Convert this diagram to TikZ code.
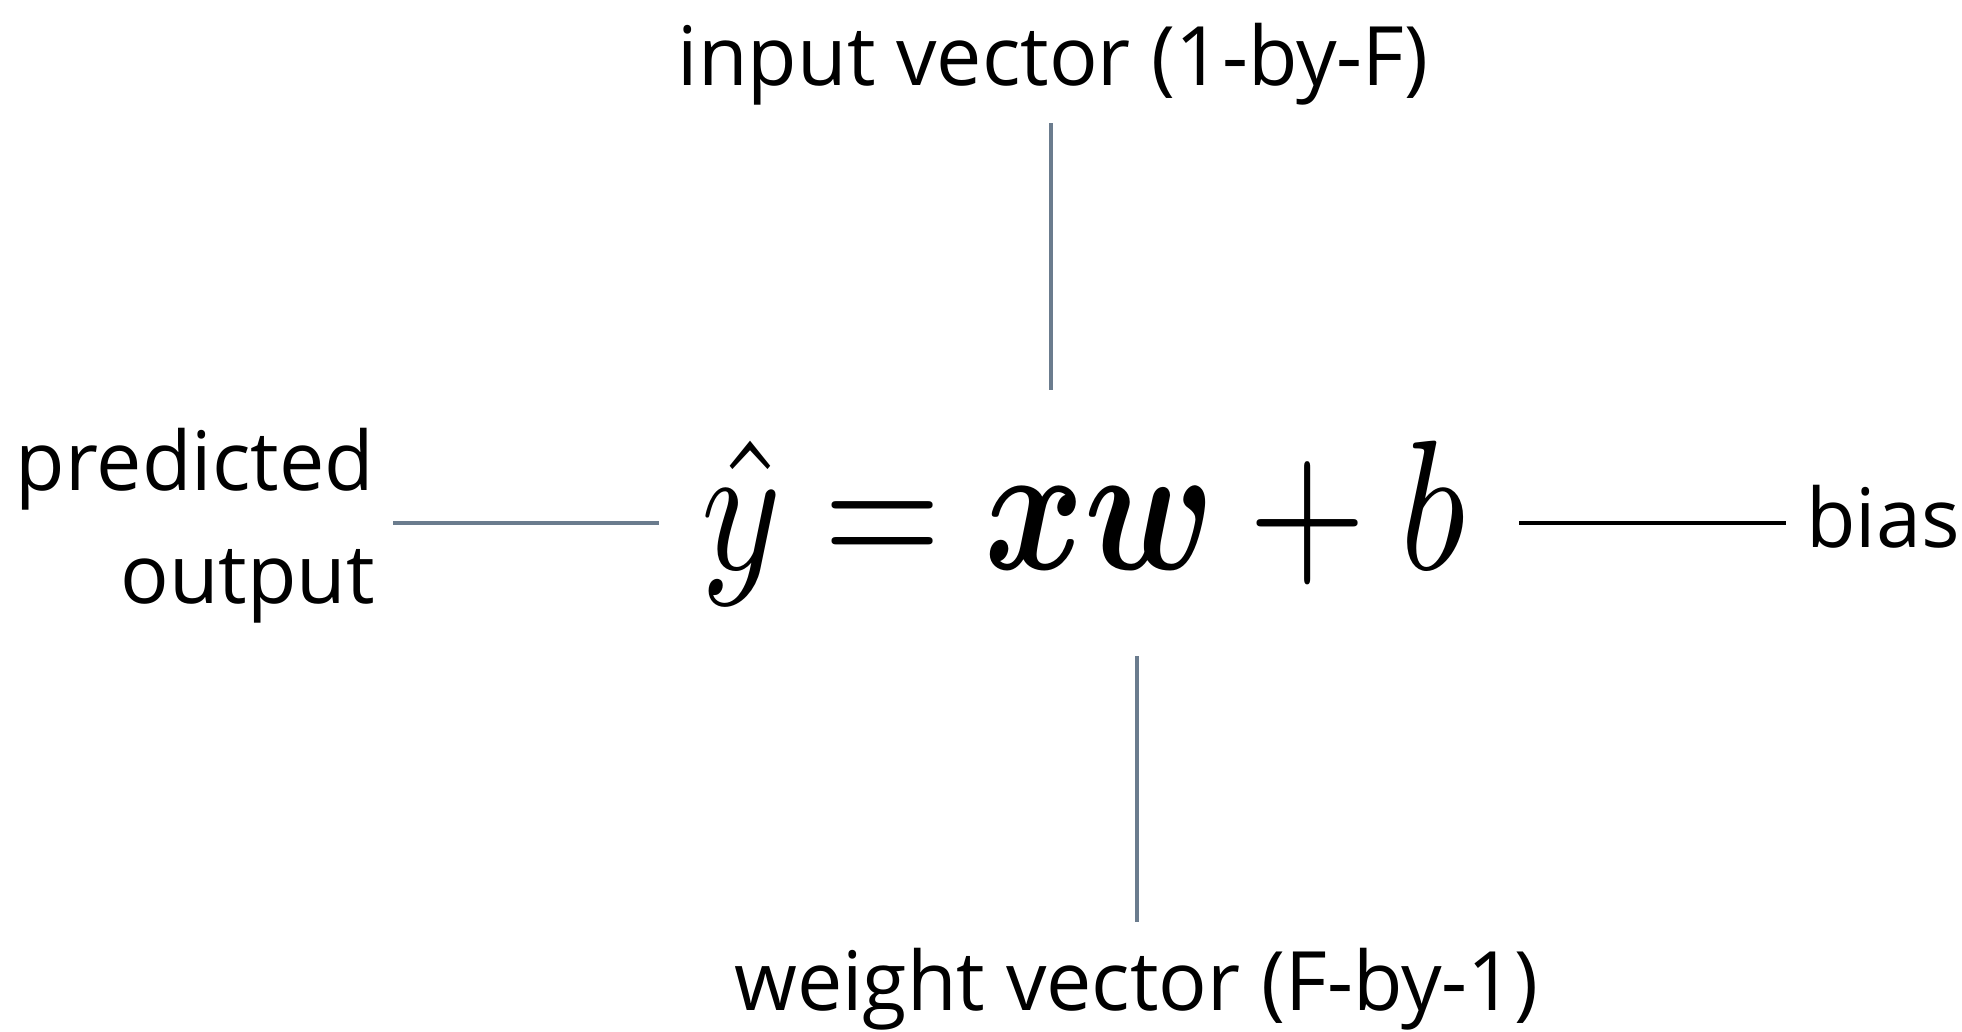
\documentclass[tikz,border=0pt]{standalone}
\usepackage[no-math]{fontspec}
\usepackage{graphicx}
\usepackage{bm}
\newfontfamily\lblfont{Open Sans}[FakeStretch=0.985]
\definecolor{slate}{RGB}{107,124,142}
\begin{document}
\begin{tikzpicture}[x=1pt,y=-1pt,
  lbl/.style={font=\lblfont\fontsize{82}{90}\selectfont, inner sep=0pt},
  conn/.style={draw=slate, line width=4pt},
  connb/.style={draw=black, line width=4pt}]
\useasboundingbox (0,0) rectangle (1962,1031);
% labels
\node[lbl, anchor=base] (inp) at (1053,85) {input vector (1-by-F)};
\node[lbl, anchor=base east] (pred) at (374,490) {predicted};
\node[lbl, anchor=base east] (outp) at (375,603) {output};
\node[lbl, anchor=base west] (bias) at (1806,547) {bias};
\node[lbl, anchor=base] (wv) at (1136,1010) {weight vector (F-by-1)};
% equation
\node[inner sep=0pt, anchor=base] (eq) at (1084,569)
  {\scalebox{15.2}[18.5]{$\hat{y} = \bm{xw} + b$}};
% connector ends
\coordinate (topA) at (1051,123);
\coordinate (topB) at (1051,390);
\coordinate (leftA) at (393,523);
\coordinate (leftB) at (659,523);
\coordinate (rightA) at (1519,523);
\coordinate (rightB) at (1786,523);
\coordinate (botA) at (1137,656);
\coordinate (botB) at (1137,922);
\draw[conn] (topA) -- (topB);
\draw[conn] (leftA) -- (leftB);
\draw[connb] (rightA) -- (rightB);
\draw[conn] (botA) -- (botB);
\end{tikzpicture}
\end{document}
